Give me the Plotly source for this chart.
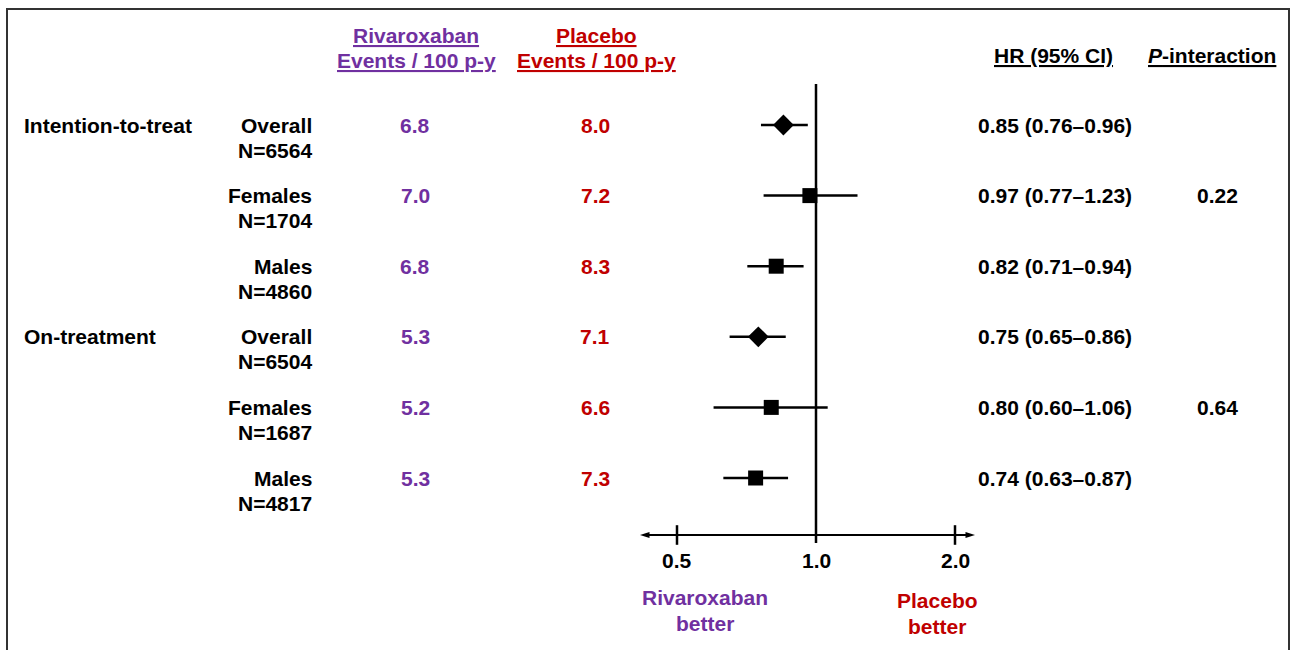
import math
import plotly.graph_objects as go

# ---------------- data ----------------
groups = ["Intention-to-treat", None, None, "On-treatment", None, None]
subgroups = ["Overall", "Females", "Males", "Overall", "Females", "Males"]
n_labels = ["N=6564", "N=1704", "N=4860", "N=6504", "N=1687", "N=4817"]
riva_rates = ["6.8", "7.0", "6.8", "5.3", "5.2", "5.3"]
placebo_rates = ["8.0", "7.2", "8.3", "7.1", "6.6", "7.3"]
hr = [0.85, 0.97, 0.82, 0.75, 0.80, 0.74]
ci_low = [0.76, 0.77, 0.71, 0.65, 0.60, 0.63]
ci_high = [0.96, 1.23, 0.94, 0.86, 1.06, 0.87]
p_interaction = [None, "0.22", None, None, "0.64", None]
tick_values = [0.5, 1.0, 2.0]
tick_labels = ["0.5", "1.0", "2.0"]

# ---------------- styling ----------------
W, H = 1293, 650
PURPLE = "#7030A0"
RED = "#C00000"
FONT = "Liberation Sans, Arial, sans-serif"
FS = 21

# log-axis geometry: 0.5 -> 677px, 2.0 -> 955px ; axis spans 640..975 px
ppl = (955 - 677) / (math.log10(2) - math.log10(0.5))
x_lo = math.log10(0.5) - (677 - 640) / ppl
x_hi = math.log10(2) + (975 - 955) / ppl
axis_left = 10 ** x_lo
axis_right = 10 ** x_hi

# y geometry: row i at pixel 125 + 70.6*i
ROW0, ROWH = 125, 70.6
def ypx(p):
    return (p - ROW0) / ROWH
y_top, y_bot = ypx(0), ypx(H)
axis_y = ypx(535)

def xp(p):
    return p / W
def yp(p):
    return 1 - p / H

rows = list(range(len(hr)))
symbols = ["diamond" if s == "Overall" else "square" for s in subgroups]
sizes = [16 if s == "Overall" else 15 for s in subgroups]

fig = go.Figure()

# reference line at HR = 1
fig.add_trace(go.Scatter(x=[1, 1], y=[ypx(84), ypx(543)], mode="lines",
                         line=dict(color="black", width=2.5), hoverinfo="skip"))

# horizontal axis with arrows
for end in (axis_left, axis_right):
    fig.add_trace(go.Scatter(x=[1, end], y=[axis_y, axis_y], mode="lines+markers",
                             line=dict(color="black", width=2),
                             marker=dict(symbol="arrow", size=[0, 10], angleref="previous",
                                         color="black", opacity=1,
                                         line=dict(width=0)),
                             hoverinfo="skip"))
# tick marks
fig.add_trace(go.Scatter(x=[v for v in tick_values if v != 1.0],
                         y=[axis_y] * 2, mode="markers",
                         marker=dict(symbol="line-ns", size=14, opacity=1,
                                     line=dict(color="black", width=2.5)),
                         hoverinfo="skip"))

# HR markers with CI
fig.add_trace(go.Scatter(
    x=hr, y=rows, mode="markers",
    marker=dict(symbol=symbols, size=sizes, color="black", opacity=1,
                line=dict(width=0)),
    error_x=dict(type="data", symmetric=False,
                 array=[h - m for h, m in zip(ci_high, hr)],
                 arrayminus=[m - l for m, l in zip(hr, ci_low)],
                 color="black", thickness=2.5, width=0),
    hoverinfo="skip"))

ann = []
def txt(text, x, y, color="black", xanchor="center", yref="y", size=FS):
    ann.append(dict(text=text, x=xp(x), xref="paper", y=y, yref=yref,
                    xanchor=xanchor, yanchor="middle", showarrow=False,
                    font=dict(family=FONT, size=size, color=color, weight="bold")))

# headers
txt("<u>Rivaroxaban</u>", 416, yp(36), PURPLE, yref="paper")
txt("<u>Events / 100 p-y</u>", 416, yp(61), PURPLE, yref="paper")
txt("<u>Placebo</u>", 596, yp(36), RED, yref="paper")
txt("<u>Events / 100 p-y</u>", 596, yp(61), RED, yref="paper")
txt("<u>HR (95% CI)</u>", 1053, yp(55), yref="paper")
txt("<u><i>P</i>-interaction</u>", 1212, yp(55), yref="paper")

LINE2 = 25 / ROWH
for i in rows:
    if groups[i]:
        txt(groups[i], 22, i, xanchor="left")
    txt(subgroups[i], 314, i, xanchor="right")
    txt(n_labels[i], 314, i + LINE2, xanchor="right")
    txt(riva_rates[i], 415, i, PURPLE)
    txt(placebo_rates[i], 595, i, RED)
    txt(f"{hr[i]:.2f} ({ci_low[i]:.2f}\u2013{ci_high[i]:.2f})", 1055, i)
    if p_interaction[i]:
        txt(p_interaction[i], 1217, i)

# tick labels
for v, lab in zip(tick_values, tick_labels):
    ann.append(dict(text=lab, x=math.log10(v), xref="x", y=yp(560), yref="paper",
                    xanchor="center", yanchor="middle", showarrow=False,
                    font=dict(family=FONT, size=FS, color="black", weight="bold")))

txt("Rivaroxaban", 705, yp(597), PURPLE, yref="paper")
txt("better", 705, yp(623), PURPLE, yref="paper")
txt("Placebo", 937, yp(600), RED, yref="paper")
txt("better", 937, yp(626), RED, yref="paper")

fig.update_layout(
    width=W, height=H,
    margin=dict(l=0, r=0, t=0, b=0),
    paper_bgcolor="white", plot_bgcolor="white",
    showlegend=False,
    xaxis=dict(type="log", range=[x_lo, x_hi], domain=[xp(640), xp(975)],
               visible=False, fixedrange=True),
    yaxis=dict(range=[y_bot, y_top], domain=[0, 1], visible=False, fixedrange=True),
    annotations=ann,
    shapes=[dict(type="path", xref="paper", yref="paper",
                 path=f"M {xp(7)},{-0.05} L {xp(7)},{yp(9)} L {xp(1289)},{yp(9)} L {xp(1289)},{-0.05}",
                 line=dict(color="#333333", width=2))],
)

fig.write_html("out.html", config={"displayModeBar": False},
               post_script="document.body.style.margin='0';document.body.style.overflow='hidden';")
